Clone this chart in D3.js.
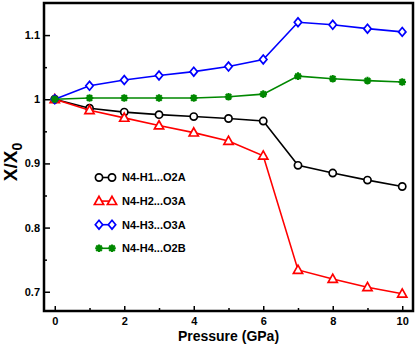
<!DOCTYPE html>
<html>
<head>
<meta charset="utf-8">
<script src="https://cdn.jsdelivr.net/npm/d3@7"></script>
<style>
  body { margin: 0; background: #fff; }
  text { font-family: "Liberation Sans Narrow", "Liberation Sans", "DejaVu Sans Condensed", sans-serif; font-weight: bold; }
</style>
</head>
<body>
<div id="chart"></div>
<script>
// 데이터
const pressure = [0, 1, 2, 3, 4, 5, 6, 7, 8, 9, 10];
const h1_o2a = [1.0, 0.986, 0.980, 0.976, 0.973, 0.970, 0.966, 0.897, 0.885, 0.874, 0.864];
const h2_o3a = [1.0, 0.983, 0.971, 0.959, 0.948, 0.935, 0.912, 0.734, 0.720, 0.707, 0.697];
const h3_o3a = [1.0, 1.021, 1.030, 1.037, 1.043, 1.051, 1.062, 1.120, 1.116, 1.110, 1.105];
const h4_o2b = [1.0, 1.002, 1.002, 1.002, 1.002, 1.004, 1.008, 1.036, 1.032, 1.029, 1.027];
const seriesNames = ["N4-H1...O2A", "N4-H2...O3A", "N4-H3...O3A", "N4-H4...O2B"];
const xTicks = [0, 2, 4, 6, 8, 10];
const yTicks = [0.7, 0.8, 0.9, 1, 1.1];

const width = 415, height = 346;
const mLeft = 44, mRight = 413, mTop = 3, mBottom = 311;

const series = [
  { name: seriesNames[0], values: h1_o2a, color: "#000000", marker: "circle" },
  { name: seriesNames[1], values: h2_o3a, color: "#ff0000", marker: "triangle" },
  { name: seriesNames[2], values: h3_o3a, color: "#0000ff", marker: "diamond" },
  { name: seriesNames[3], values: h4_o2b, color: "#008800", marker: "star" }
];

const x = d3.scaleLinear().domain([-0.31, 10.31]).range([mLeft, mRight]);
const y = d3.scaleLinear().domain([0.67, 1.15]).range([mBottom, mTop]);

const svg = d3.select("#chart").append("svg")
  .attr("width", width)
  .attr("height", height);

// 축 (눈금은 안쪽으로)
svg.append("g")
  .attr("transform", `translate(0,${mBottom})`)
  .call(d3.axisBottom(x).tickValues(xTicks).tickSizeInner(-5).tickSizeOuter(0).tickPadding(6).tickFormat(d3.format("d")))
  .call(g => g.select(".domain").remove())
  .call(g => g.selectAll(".tick line").attr("stroke-width", 1.5))
  .call(g => g.selectAll("text").style("font-size", "11px").attr("fill", "#000"));

svg.append("g")
  .attr("transform", `translate(0,${mBottom})`)
  .call(d3.axisBottom(x).tickValues([1, 3, 5, 7, 9]).tickSizeInner(-3).tickSizeOuter(0).tickFormat(""))
  .call(g => g.select(".domain").remove())
  .call(g => g.selectAll(".tick line").attr("stroke-width", 1.5));

svg.append("g")
  .attr("transform", `translate(${mLeft},0)`)
  .call(d3.axisLeft(y).tickValues(yTicks).tickSizeInner(-6).tickSizeOuter(0).tickPadding(4).tickFormat(d => d === 1 ? "1" : d3.format(".1f")(d)))
  .call(g => g.select(".domain").remove())
  .call(g => g.selectAll(".tick line").attr("stroke-width", 1.5))
  .call(g => g.selectAll("text").style("font-size", "11px").attr("fill", "#000"));

svg.append("g")
  .attr("transform", `translate(${mLeft},0)`)
  .call(d3.axisLeft(y).tickValues([0.75, 0.85, 0.95, 1.05]).tickSizeInner(-3).tickSizeOuter(0).tickFormat(""))
  .call(g => g.select(".domain").remove())
  .call(g => g.selectAll(".tick line").attr("stroke-width", 1.5));

// 테두리
svg.append("rect")
  .attr("x", mLeft).attr("y", mTop)
  .attr("width", mRight - mLeft).attr("height", mBottom - mTop)
  .attr("fill", "none").attr("stroke", "#000").attr("stroke-width", 2.5);

// 마커 그리기
function drawMarker(g, type, color, cx, cy) {
  if (type === "circle") {
    g.append("circle").attr("cx", cx).attr("cy", cy).attr("r", 3.6)
      .attr("fill", "#fff").attr("stroke", color).attr("stroke-width", 1.7);
  } else if (type === "triangle") {
    g.append("path").attr("d", `M${cx},${cy - 4.8}L${cx + 4.6},${cy + 3.4}L${cx - 4.6},${cy + 3.4}Z`)
      .attr("fill", "#fff").attr("stroke", color).attr("stroke-width", 1.7);
  } else if (type === "diamond") {
    g.append("path").attr("d", `M${cx},${cy - 4.4}L${cx + 3.7},${cy}L${cx},${cy + 4.4}L${cx - 3.7},${cy}Z`)
      .attr("fill", "#fff").attr("stroke", color).attr("stroke-width", 1.7);
  } else {
    const r = 3.8;
    const k = r * 0.72;
    g.append("path")
      .attr("d", `M${cx - r},${cy}L${cx + r},${cy}M${cx},${cy - r}L${cx},${cy + r}M${cx - k},${cy - k}L${cx + k},${cy + k}M${cx - k},${cy + k}L${cx + k},${cy - k}`)
      .attr("stroke", color).attr("stroke-width", 2.1);
    g.append("circle").attr("cx", cx).attr("cy", cy).attr("r", 2.2).attr("fill", color);
  }
}

const line = d3.line().x((d, i) => x(pressure[i])).y(d => y(d));

series.forEach(s => {
  const g = svg.append("g");
  g.append("path").datum(s.values)
    .attr("d", line)
    .attr("fill", "none").attr("stroke", s.color).attr("stroke-width", 1.6);
  s.values.forEach((v, i) => drawMarker(g, s.marker, s.color, x(pressure[i]), y(v)));
});

// 범례
const legend = svg.append("g").attr("transform", "translate(99,177.5)");
series.forEach((s, i) => {
  const g = legend.append("g").attr("transform", `translate(0,${i * 23.6})`);
  g.append("line").attr("x1", 0).attr("x2", 13).attr("y1", 0).attr("y2", 0)
    .attr("stroke", s.color).attr("stroke-width", 1.6);
  drawMarker(g, s.marker, s.color, 0, 0);
  drawMarker(g, s.marker, s.color, 13, 0);
  g.append("text").attr("x", 23).attr("y", 0).attr("dy", "0.36em")
    .style("font-size", "11px").attr("fill", "#000").text(s.name);
});

// 축 제목
svg.append("text")
  .attr("x", (mLeft + mRight) / 2).attr("y", 341)
  .attr("text-anchor", "middle")
  .style("font-size", "14px")
  .text("Pressure (GPa)");

const yl = svg.append("text")
  .attr("transform", "translate(17,162) rotate(-90)")
  .attr("text-anchor", "middle")
  .style("font-size", "19px");
yl.append("tspan").text("X/X");
yl.append("tspan").attr("dy", 5).style("font-size", "14px").text("0");
</script>
</body>
</html>
